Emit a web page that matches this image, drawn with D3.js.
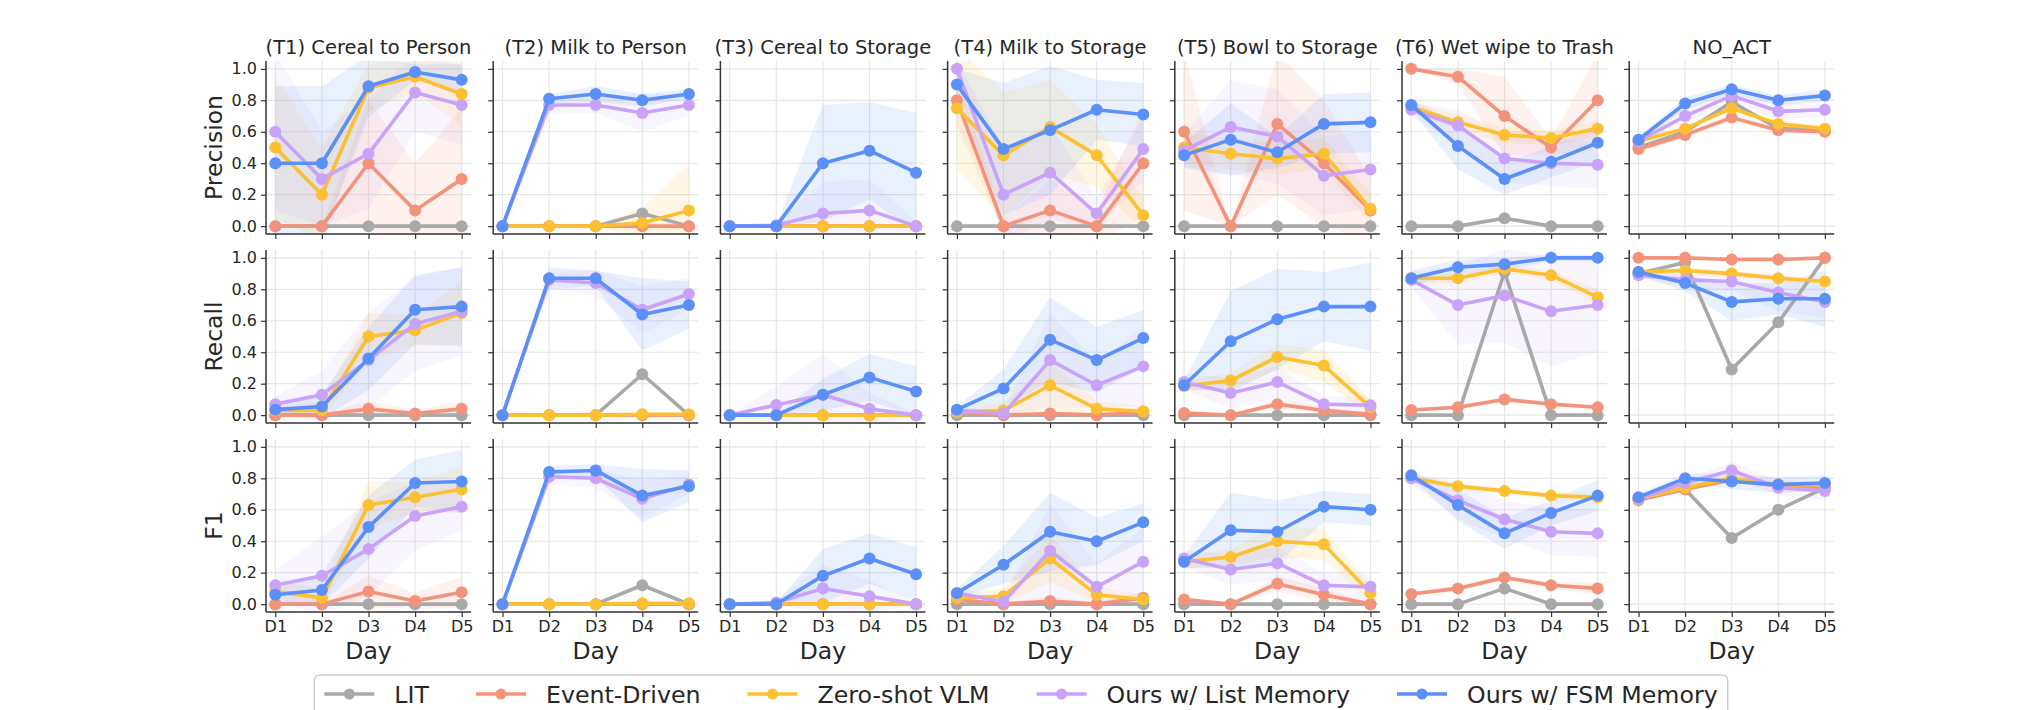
<!DOCTYPE html>
<html>
<head>
<meta charset="utf-8">
<script src="https://cdn.jsdelivr.net/npm/d3@7"></script>
<style>
  body { margin: 0; background: #fff; }
  svg { font-family: "DejaVu Sans", sans-serif; }
</style>
</head>
<body>
<svg id="chart" width="2040" height="710"></svg>
<script>
const days = ["D1", "D2", "D3", "D4", "D5"];
const tasks = ["(T1) Cereal to Person", "(T2) Milk to Person", "(T3) Cereal to Storage",
  "(T4) Milk to Storage", "(T5) Bowl to Storage", "(T6) Wet wipe to Trash", "NO_ACT"];
const methods = ["LIT", "Event-Driven", "Zero-shot VLM", "Ours w/ List Memory", "Ours w/ FSM Memory"];
const metrics = ["Precision", "Recall", "F1"];
const colors = ["#a9a9a9", "#f4937b", "#fcc030", "#c9a3f9", "#5b8ff9"];
const yTicks = [0, 0.2, 0.4, 0.6, 0.8, 1.0];

// [task][method][day]
const precision = [
  [[0,0,0,0,0],[0,0,0.4,0.1,0.3],[0.5,0.2,0.88,0.95,0.84],[0.6,0.3,0.46,0.85,0.77],[0.4,0.4,0.89,0.98,0.93]],
  [[0,0,0,0.08,0],[0,0,0,0,0],[0,0,0,0.02,0.1],[0,0.77,0.77,0.72,0.77],[0,0.81,0.84,0.8,0.84]],
  [[0,0,0,0,0],[0,0,0,0,0],[0,0,0,0,0],[0,0.005,0.08,0.1,0],[0,0,0.4,0.48,0.34]],
  [[0,0,0,0,0],[0.8,0,0.1,0,0.4],[0.75,0.45,0.63,0.45,0.07],[1.0,0.2,0.34,0.08,0.49],[0.9,0.49,0.61,0.74,0.71]],
  [[0,0,0,0,0],[0.6,0,0.65,0.4,0.1],[0.5,0.46,0.43,0.46,0.11],[0.48,0.63,0.57,0.32,0.36],[0.45,0.55,0.47,0.65,0.66]],
  [[0,0,0.05,0,0],[1.0,0.95,0.7,0.5,0.8],[0.76,0.66,0.58,0.56,0.62],[0.74,0.64,0.43,0.4,0.39],[0.77,0.51,0.3,0.41,0.53]],
  [[0.5,0.6,0.79,0.62,0.61],[0.49,0.58,0.69,0.61,0.6],[0.54,0.62,0.75,0.65,0.62],[0.54,0.7,0.83,0.73,0.74],[0.55,0.78,0.87,0.8,0.83]]
];
const precisionStd = [
  [[0,0,0,0,0],[0,0,0.4,0.3,0.45],[0.45,0.3,0.15,0.1,0.2],[0.5,0.3,0.35,0.25,0.25],[0.49,0.49,0.2,0.05,0.1]],
  [[0,0,0,0,0],[0,0,0,0.02,0.02],[0,0,0,0.1,0.29],[0,0.05,0.05,0.12,0.07],[0,0.03,0.05,0.04,0.03]],
  [[0,0,0,0,0],[0,0,0,0,0],[0,0,0,0,0],[0,0.01,0.2,0.2,0.03],[0,0.01,0.37,0.31,0.38]],
  [[0,0,0,0,0],[0.15,0.05,0.2,0.1,0.35],[0.39,0.4,0.3,0.2,0.1],[0.05,0.3,0.3,0.1,0.2],[0.1,0.42,0.41,0.19,0.2]],
  [[0,0,0,0,0],[0.5,0,0.45,0.4,0.2],[0.1,0.1,0.1,0.1,0.1],[0.1,0.3,0.3,0.25,0.25],[0.08,0.23,0.1,0.19,0.19]],
  [[0,0,0,0,0],[0,0.05,0.25,0.05,0.3],[0.03,0.05,0.05,0.05,0.05],[0.05,0.1,0.15,0.15,0.15],[0.03,0.15,0.1,0.1,0.12]],
  [[0,0,0,0,0],[0.02,0.02,0.02,0.02,0.02],[0.02,0.02,0.02,0.02,0.02],[0.03,0.05,0.04,0.05,0.04],[0.02,0.04,0.03,0.03,0.04]]
];

const recall = [
  [[0,0,0,0,0],[0,0,0.04,0.01,0.04],[0.03,0.03,0.5,0.54,0.65],[0.07,0.13,0.35,0.58,0.66],[0.035,0.055,0.36,0.67,0.69]],
  [[0,0,0,0.26,0],[0,0,0,0,0],[0,0,0,0.005,0.005],[0,0.86,0.84,0.67,0.77],[0,0.87,0.87,0.64,0.7]],
  [[0,0,0,0,0],[0,0,0,0,0],[0,0,0,0,0],[0,0.065,0.13,0.04,0],[0,0,0.13,0.24,0.15]],
  [[0,0,0,0,0],[0.02,0,0.01,0,0.02],[0.02,0.03,0.19,0.04,0.025],[0.03,0.01,0.35,0.19,0.31],[0.035,0.17,0.48,0.35,0.49]],
  [[0,0,0,0,0],[0.013,0,0.07,0.03,0.005],[0.185,0.22,0.37,0.315,0.05],[0.21,0.14,0.21,0.07,0.063],[0.19,0.47,0.61,0.69,0.69]],
  [[0,0,0.91,0,0],[0.033,0.05,0.1,0.07,0.05],[0.87,0.87,0.93,0.89,0.75],[0.86,0.7,0.76,0.66,0.7],[0.87,0.94,0.96,1.0,1.0]],
  [[0.9,0.97,0.29,0.59,1.0],[1,1,0.99,0.99,1],[0.91,0.92,0.9,0.87,0.85],[0.89,0.86,0.85,0.78,0.72],[0.91,0.84,0.72,0.74,0.74]]
];
const recallStd = [
  [[0,0,0,0,0],[0.01,0.01,0.05,0.02,0.05],[0.03,0.05,0.15,0.1,0.2],[0.05,0.15,0.3,0.3,0.28],[0.04,0.08,0.2,0.22,0.25]],
  [[0,0,0,0,0],[0,0,0,0,0],[0,0,0,0.01,0.01],[0,0.05,0.08,0.15,0.1],[0,0.07,0.05,0.23,0.15]],
  [[0,0,0,0,0],[0,0,0,0,0],[0,0,0,0,0],[0,0.12,0.26,0.1,0.01],[0,0.01,0.1,0.15,0.16]],
  [[0,0,0,0,0],[0.02,0.01,0.02,0.01,0.02],[0.02,0.05,0.15,0.05,0.03],[0.02,0.02,0.3,0.15,0.25],[0.02,0.12,0.27,0.21,0.18]],
  [[0,0,0,0,0],[0.01,0,0.03,0.02,0.01],[0.03,0.05,0.08,0.1,0.05],[0.05,0.1,0.1,0.05,0.05],[0.03,0.32,0.32,0.22,0.28]],
  [[0,0,0,0,0],[0.01,0.01,0.02,0.01,0.01],[0.03,0.03,0.03,0.03,0.05],[0.05,0.25,0.3,0.35,0.3],[0.05,0.05,0.04,0.02,0.02]],
  [[0,0,0,0,0],[0.01,0.01,0.01,0.01,0.01],[0.02,0.02,0.02,0.02,0.02],[0.02,0.05,0.06,0.12,0.1],[0.02,0.05,0.12,0.1,0.18]]
];

const f1 = [
  [[0,0,0,0,0],[0,0,0.08,0.02,0.075],[0.08,0.04,0.63,0.68,0.73],[0.12,0.18,0.35,0.56,0.62],[0.06,0.09,0.49,0.77,0.78]],
  [[0,0,0,0.12,0],[0,0,0,0,0],[0,0,0,0.005,0.005],[0,0.81,0.8,0.67,0.76],[0,0.84,0.85,0.69,0.75]],
  [[0,0,0,0,0],[0,0,0,0,0],[0,0,0,0,0],[0,0.01,0.1,0.05,0],[0,0,0.18,0.29,0.19]],
  [[0,0,0,0,0],[0.03,0,0.02,0,0.04],[0.04,0.05,0.29,0.06,0.03],[0.07,0.015,0.34,0.11,0.27],[0.07,0.25,0.46,0.4,0.52]],
  [[0,0,0,0,0],[0.03,0,0.13,0.06,0],[0.27,0.3,0.4,0.38,0.07],[0.29,0.22,0.26,0.12,0.11],[0.27,0.47,0.46,0.62,0.6]],
  [[0,0,0.1,0,0],[0.065,0.1,0.17,0.12,0.1],[0.8,0.75,0.72,0.69,0.68],[0.8,0.66,0.54,0.46,0.45],[0.82,0.63,0.45,0.58,0.69]],
  [[0.67,0.73,0.42,0.6,0.74],[0.66,0.73,0.79,0.75,0.74],[0.67,0.74,0.8,0.76,0.76],[0.67,0.77,0.85,0.74,0.72],[0.68,0.8,0.78,0.76,0.77]]
];
const f1Std = [
  [[0,0,0,0,0],[0,0,0.1,0.05,0.1],[0.08,0.05,0.15,0.1,0.15],[0.1,0.25,0.3,0.22,0.15],[0.05,0.1,0.2,0.15,0.2]],
  [[0,0,0,0,0],[0,0,0,0,0],[0,0,0,0.01,0.01],[0,0.05,0.06,0.12,0.06],[0,0.04,0.04,0.17,0.1]],
  [[0,0,0,0,0],[0,0,0,0,0],[0,0,0,0,0],[0,0.02,0.15,0.1,0.01],[0,0.01,0.17,0.16,0.17]],
  [[0,0,0,0,0],[0.02,0.01,0.03,0.01,0.04],[0.03,0.05,0.15,0.05,0.03],[0.04,0.02,0.3,0.15,0.22],[0.03,0.12,0.25,0.15,0.12]],
  [[0,0,0,0,0],[0.02,0,0.05,0.04,0.01],[0.04,0.05,0.1,0.1,0.05],[0.05,0.1,0.1,0.08,0.08],[0.04,0.24,0.2,0.1,0.1]],
  [[0,0,0,0,0],[0.01,0.02,0.02,0.02,0.04],[0.02,0.02,0.02,0.02,0.03],[0.03,0.12,0.12,0.15,0.15],[0.02,0.1,0.1,0.08,0.1]],
  [[0,0,0,0,0],[0.01,0.01,0.01,0.01,0.01],[0.02,0.02,0.02,0.02,0.02],[0.02,0.03,0.05,0.05,0.06],[0.02,0.03,0.05,0.05,0.05]]
];

const means = [precision, recall, f1];
const stds = [precisionStd, recallStd, f1Std];

const svg = d3.select("#chart");
const left0 = 266, colStep = 227.2, pw = 205;
const top0 = 61, rowStep = 189, ph = 173;
const textColor = "#262626";

const defs = svg.append("defs");

metrics.forEach((metric, r) => {
  tasks.forEach((task, c) => {
    const x0 = left0 + c * colStep, y0 = top0 + r * rowStep;
    const x = d3.scalePoint().domain(days).range([x0 + pw * 0.2 / 4.4, x0 + pw - pw * 0.2 / 4.4]);
    const y = d3.scaleLinear().domain([-0.05, 1.05]).range([y0 + ph, y0]);
    const clipId = `clip-${r}-${c}`;
    defs.append("clipPath").attr("id", clipId)
      .append("rect").attr("x", x0).attr("y", y0).attr("width", pw).attr("height", ph);

    const g = svg.append("g");

    // grid
    g.append("g").selectAll("line").data(yTicks).join("line")
      .attr("x1", x0).attr("x2", x0 + pw)
      .attr("y1", d => y(d)).attr("y2", d => y(d))
      .attr("stroke", "#e6e6e6").attr("stroke-width", 1.2);
    g.append("g").selectAll("line").data(days).join("line")
      .attr("x1", d => x(d)).attr("x2", d => x(d))
      .attr("y1", y0).attr("y2", y0 + ph)
      .attr("stroke", "#e6e6e6").attr("stroke-width", 1.2);

    const plot = g.append("g").attr("clip-path", `url(#${clipId})`);

    // std bands
    methods.forEach((m, k) => {
      const mu = means[r][c][k], sd = stds[r][c][k];
      const area = d3.area()
        .x((d, i) => x(days[i]))
        .y0((d, i) => y(mu[i] - sd[i]))
        .y1((d, i) => y(mu[i] + sd[i]));
      plot.append("path").datum(mu).attr("d", area)
        .attr("fill", colors[k]).attr("fill-opacity", k === 3 ? 0.11 : 0.13);
    });

    // lines + markers
    methods.forEach((m, k) => {
      const mu = means[r][c][k];
      const line = d3.line().x((d, i) => x(days[i])).y(d => y(d));
      plot.append("path").datum(mu).attr("d", line)
        .attr("fill", "none").attr("stroke", colors[k]).attr("stroke-width", 3.6)
        .attr("stroke-linejoin", "round");
      plot.selectAll(null).data(mu).join("circle")
        .attr("cx", (d, i) => x(days[i])).attr("cy", d => y(d)).attr("r", 6)
        .attr("fill", colors[k]);
    });

    // axes
    const ya = g.append("g").attr("transform", `translate(${x0},0)`)
      .call(d3.axisLeft(y).tickValues(yTicks).tickSize(5).tickPadding(4)
        .tickFormat(c === 0 ? d3.format(".1f") : ""));
    const xa = g.append("g").attr("transform", `translate(0,${y0 + ph})`)
      .call(d3.axisBottom(x).tickSize(5).tickPadding(4).tickFormat(r === 2 ? d => d : ""));
    [ya, xa].forEach(a => {
      a.select(".domain").attr("stroke", "#333").attr("stroke-width", 1.5);
      a.selectAll(".tick line").attr("stroke", "#333").attr("stroke-width", 1.2);
      a.selectAll(".tick text").attr("fill", textColor).style("font-size", "16px")
        .style("font-family", "DejaVu Sans");
    });
    // plain spines, no end caps
    ya.select(".domain").attr("d", `M0,${y0 + ph}V${y0}`);
    xa.select(".domain").attr("d", `M${x0},0H${x0 + pw}`);

    if (r === 0) {
      svg.append("text").attr("x", x0 + pw / 2).attr("y", y0 - 7)
        .attr("text-anchor", "middle").attr("fill", textColor)
        .style("font-size", "19.5px").text(task);
    }
    if (r === 2) {
      svg.append("text").attr("x", x0 + pw / 2).attr("y", 659)
        .attr("text-anchor", "middle").attr("fill", textColor)
        .style("font-size", "23.5px").text("Day");
    }
    if (c === 0) {
      svg.append("text")
        .attr("transform", `translate(222,${y0 + ph / 2}) rotate(-90)`)
        .attr("text-anchor", "middle").attr("fill", textColor)
        .style("font-size", "23.5px").text(metric);
    }
  });
});

// legend
const legFrame = svg.append("rect");
const legend = svg.append("g");
const handleW = 50, handleGap = 20, colGap = 47, legFont = 23.7;
const items = legend.selectAll("g").data(methods).join("g");
items.append("line").attr("x1", 0).attr("x2", handleW).attr("y1", 0).attr("y2", 0)
  .attr("stroke", (d, i) => colors[i]).attr("stroke-width", 3.6);
items.append("circle").attr("cx", handleW / 2).attr("cy", 0).attr("r", 5.5)
  .attr("fill", (d, i) => colors[i]);
items.append("text").attr("x", handleW + handleGap).attr("y", 0).attr("dy", "0.36em")
  .attr("fill", textColor).style("font-size", legFont + "px").text(d => d);
let cursor = 0;
items.each(function () {
  const w = handleW + handleGap + d3.select(this).select("text").node().getComputedTextLength();
  d3.select(this).attr("transform", `translate(${cursor},0)`);
  cursor += w + colGap;
});
const legW = cursor - colGap;
const legX = 1021 - legW / 2;
legend.attr("transform", `translate(${legX},694)`);
legFrame.attr("x", legX - 10).attr("y", 675).attr("width", legW + 20).attr("height", 48)
  .attr("rx", 5).attr("fill", "#fff").attr("stroke", "#cccccc").attr("stroke-width", 1.4);
</script>
</body>
</html>
